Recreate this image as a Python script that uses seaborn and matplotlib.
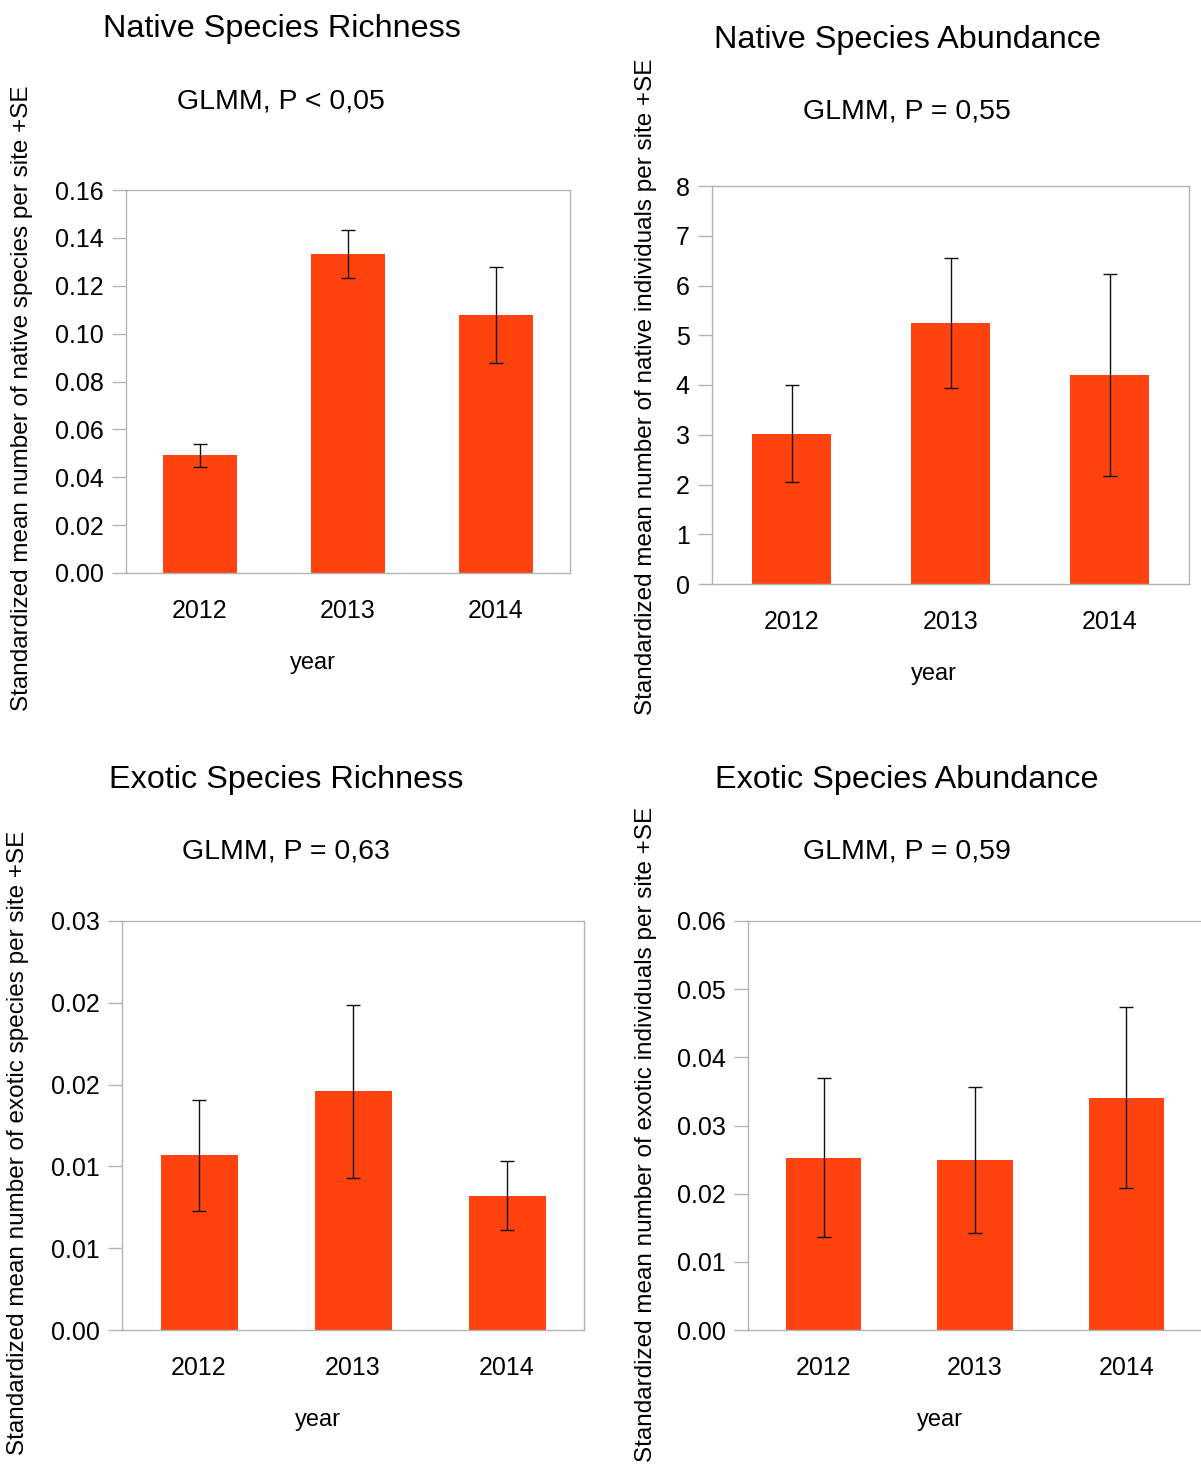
import matplotlib
matplotlib.use("Agg")
import matplotlib.pyplot as plt
import seaborn as sns
import pandas as pd
import numpy as np

# ---- data -------------------------------------------------------------
years = ["2012", "2013", "2014"]

native_richness = [0.0491, 0.1332, 0.1077]
native_richness_se = [0.0049, 0.0100, 0.0200]

native_abundance = [3.02, 5.24, 4.20]
native_abundance_se = [0.97, 1.31, 2.03]

exotic_richness = [0.01067, 0.01459, 0.00822]
exotic_richness_se = [0.0034, 0.0053, 0.0021]

exotic_abundance = [0.0253, 0.0250, 0.0341]
exotic_abundance_se = [0.0116, 0.0107, 0.0133]

titles = ["Native Species Richness", "Native Species Abundance",
          "Exotic Species Richness", "Exotic Species Abundance"]
subtitles = ["GLMM, P < 0,05", "GLMM, P = 0,55",
             "GLMM, P = 0,63", "GLMM, P = 0,59"]
ylabels = ["Standardized mean number of native species per site +SE",
           "Standardized mean number of native individuals per site +SE",
           "Standardized mean number of exotic species per site +SE",
           "Standardized mean number of exotic individuals per site +SE"]
xlabel = "year"

yticks_nr = [0.00, 0.02, 0.04, 0.06, 0.08, 0.10, 0.12, 0.14, 0.16]
yticklabels_nr = ["0.00", "0.02", "0.04", "0.06", "0.08", "0.10", "0.12", "0.14", "0.16"]
yticks_na = [0, 1, 2, 3, 4, 5, 6, 7, 8]
yticklabels_na = ["0", "1", "2", "3", "4", "5", "6", "7", "8"]
yticks_er = [0.000, 0.005, 0.010, 0.015, 0.020, 0.025]
yticklabels_er = ["0.00", "0.01", "0.01", "0.02", "0.02", "0.03"]
yticks_ea = [0.00, 0.01, 0.02, 0.03, 0.04, 0.05, 0.06]
yticklabels_ea = ["0.00", "0.01", "0.02", "0.03", "0.04", "0.05", "0.06"]

# ---- style ------------------------------------------------------------
sns.set_theme(style="white")
plt.rcParams["font.family"] = ["Liberation Sans", "DejaVu Sans"]

W, H = 1201, 1464
fig = plt.figure(figsize=(W / 100, H / 100), dpi=100)

BAR = "#ff420e"
FRAME = "#b3b3b3"


def px_axes(left, top, right, bottom):
    return fig.add_axes([left / W, 1 - bottom / H, (right - left) / W, (bottom - top) / H])


def draw_panel(box, values, errors, ticks, ticklabels, title, subtitle, ylabel,
               title_xy, sub_xy, ylab_xy, year_xy):
    ax = px_axes(*box)
    df = pd.DataFrame({"year": years, "value": values})
    sns.barplot(data=df, x="year", y="value", color=BAR, saturation=1,
                width=0.5, ax=ax, errorbar=None, linewidth=0)
    ax.errorbar(np.arange(len(years)), values, yerr=errors, fmt="none",
                ecolor="#111111", elinewidth=1.0, capsize=4.8, capthick=1.0)
    ax.set_xlim(-0.5, len(years) - 0.5)
    ax.set_ylim(ticks[0], ticks[-1])
    ax.set_yticks(ticks)
    ax.set_yticklabels(ticklabels)
    ax.set_xticks(np.arange(len(years)))
    ax.set_xticklabels(years)
    ax.set_xticks(np.arange(len(years) + 1) - 0.5, minor=True)
    ax.tick_params(axis="x", which="major", length=0, pad=19, labelsize=18, colors="black")
    ax.tick_params(axis="x", which="minor", length=8, width=1, color=FRAME, direction="out")
    ax.tick_params(axis="y", which="major", length=10, width=1, color=FRAME,
                   direction="out", pad=6, labelsize=18, labelcolor="black", left=True)
    for s in ax.spines.values():
        s.set_color(FRAME)
        s.set_linewidth(1)
    ax.set_xlabel("")
    ax.set_ylabel("")
    ax.grid(False)

    fig.text(title_xy[0] / W, 1 - title_xy[1] / H, title, ha="center", va="center",
             fontsize=23.3, color="black")
    fig.text(sub_xy[0] / W, 1 - sub_xy[1] / H, subtitle, ha="center", va="center",
             fontsize=20.5, color="black")
    fig.text(ylab_xy[0] / W, 1 - ylab_xy[1] / H, ylabel, ha="center", va="center",
             rotation=90, fontsize=17.5, color="black")
    fig.text(year_xy[0] / W, 1 - year_xy[1] / H, xlabel, ha="center", va="center",
             fontsize=17, color="black")
    return ax


draw_panel((126, 190, 570, 573), native_richness, native_richness_se,
           yticks_nr, yticklabels_nr, titles[0], subtitles[0], ylabels[0],
           (282, 29), (281, 102), (22, 398), (313, 663))
draw_panel((712, 186, 1189, 584), native_abundance, native_abundance_se,
           yticks_na, yticklabels_na, titles[1], subtitles[1], ylabels[1],
           (907, 40), (907, 112), (646, 387), (934, 674))
draw_panel((122, 921, 584, 1330), exotic_richness, exotic_richness_se,
           yticks_er, yticklabels_er, titles[2], subtitles[2], ylabels[2],
           (286, 780), (286, 852), (18, 1143), (318, 1420))
draw_panel((748, 921, 1202, 1330), exotic_abundance, exotic_abundance_se,
           yticks_ea, yticklabels_ea, titles[3], subtitles[3], ylabels[3],
           (907, 780), (907, 852), (646, 1134), (940, 1420))

fig.savefig("out.png", dpi=100, facecolor="white")
